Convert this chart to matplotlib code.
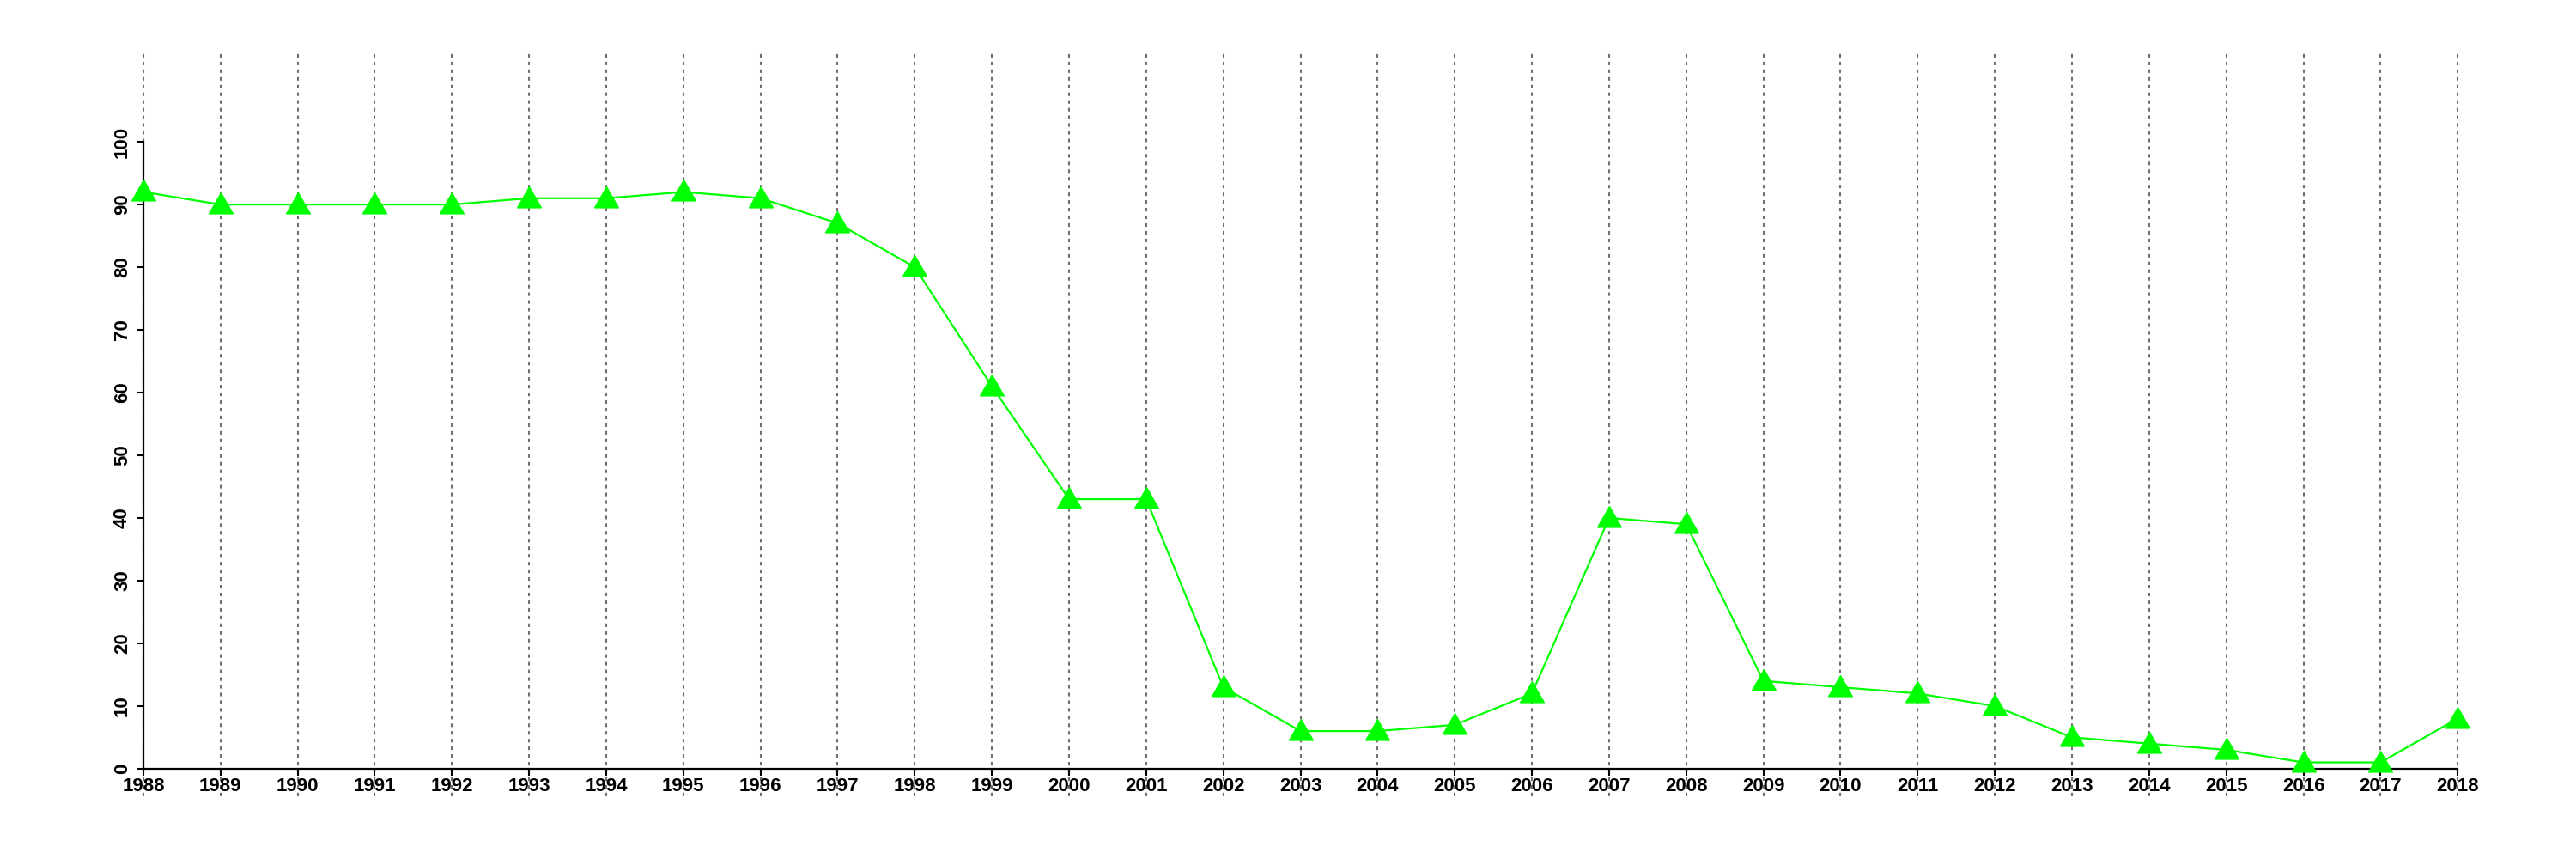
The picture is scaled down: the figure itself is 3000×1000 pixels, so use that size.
import matplotlib
matplotlib.use("Agg")
import matplotlib.pyplot as plt
import numpy as np

years = list(range(1988, 2019))
values = [92, 90, 90, 90, 90, 91, 91, 92, 91, 87, 80, 61, 43, 43, 13,
          6, 6, 7, 12, 40, 39, 14, 13, 12, 10, 5, 4, 3, 1, 1, 8]
y_ticks = list(range(0, 101, 10))

plt.rcParams['font.family'] = ['Liberation Sans', 'DejaVu Sans']
plt.rcParams['font.weight'] = 'bold'

fig = plt.figure(figsize=(30, 10), dpi=100)
ax = fig.add_axes([0.0197, 0.073, 0.9703, 0.867])

# triangle marker, slightly shifted like R's pch 17
tri = [(0, 1.0), (-1.0, -0.75), (1.0, -0.75), (0, 1.0)]

ax.plot(years, values, color='#00ff00', lw=1.6, marker=tri, markersize=20,
        markerfacecolor='#00ff00', markeredgecolor='#00ff00', zorder=3)

ax.set_xlim(1986.8, 2019.2)
ax.set_ylim(-4.4, 114.4)

ax.set_xticks(years)
ax.set_xticklabels([str(y) for y in years])
ax.set_yticks(y_ticks)
ax.grid(axis='x', color='#707070', lw=1.5, linestyle=(0, (2, 2.3)))
ax.grid(axis='y', visible=False)
ax.set_axisbelow(True)

for s in ['top', 'right']:
    ax.spines[s].set_visible(False)
ax.spines['left'].set_position(('data', 1988))
ax.spines['left'].set_bounds(0, 100)
ax.spines['bottom'].set_position(('data', 0))
ax.spines['bottom'].set_bounds(1988, 2018)
for s in ['left', 'bottom']:
    ax.spines[s].set_linewidth(1.6)

ax.tick_params(axis='x', length=6, width=1.5, pad=1, labelsize=16)
ax.tick_params(axis='y', length=6, width=1.5, pad=4, labelsize=16, labelrotation=90)
for lab in ax.get_yticklabels():
    lab.set_verticalalignment('center')
    lab.set_fontweight('bold')
for lab in ax.get_xticklabels():
    lab.set_fontweight('bold')

fig.savefig('out.png', dpi=100)
